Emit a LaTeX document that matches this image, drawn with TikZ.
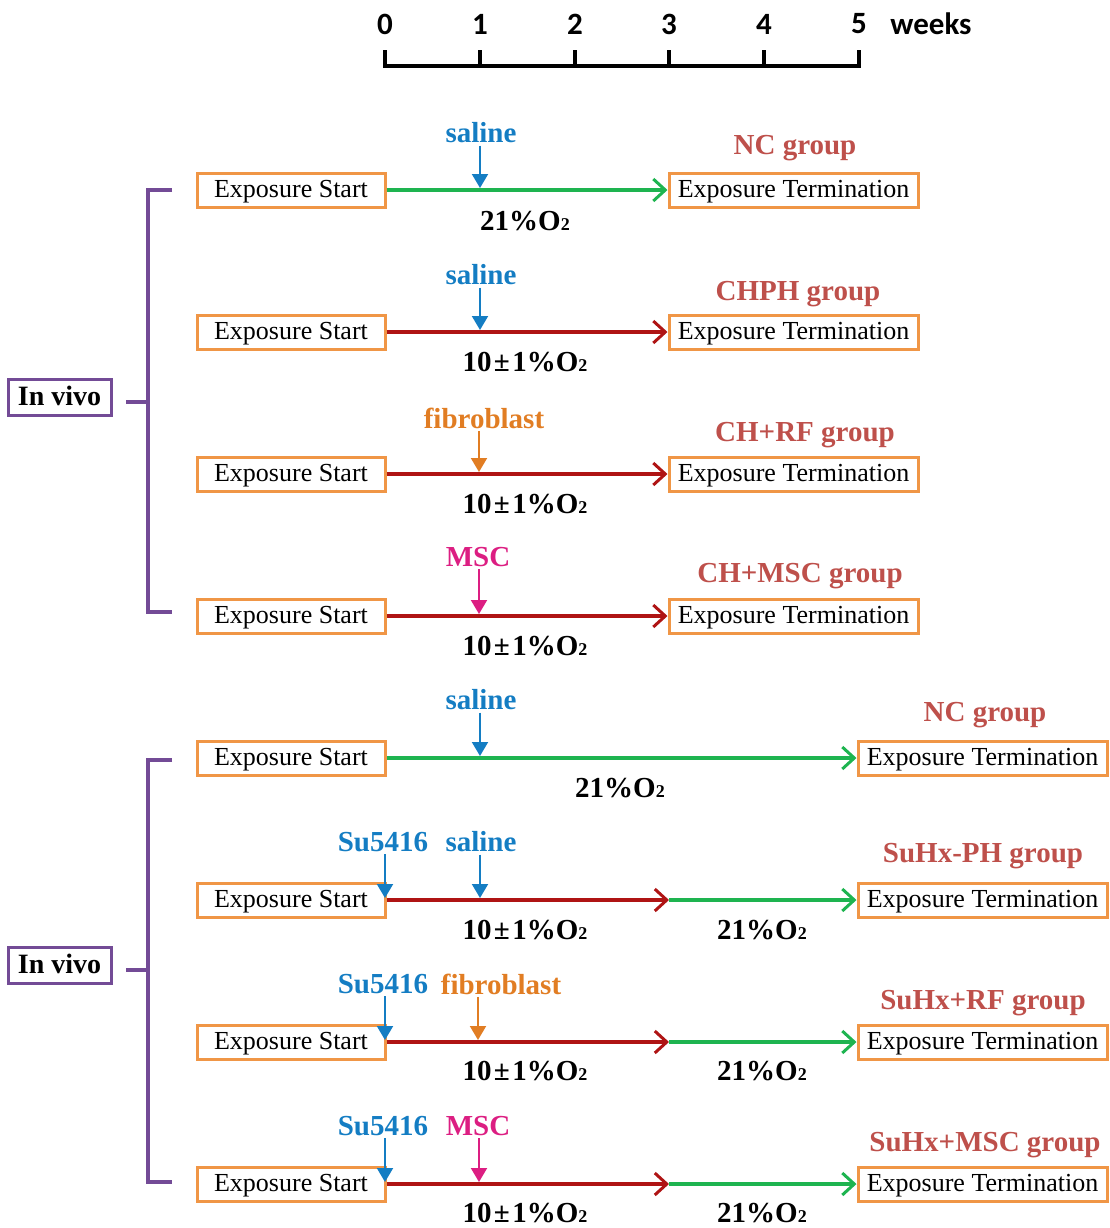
\documentclass[tikz,border=0pt]{standalone}
\usepackage{fontspec}
\setmainfont{Liberation Serif}
\newfontfamily\weekfont{Carlito}
\usetikzlibrary{arrows.meta}

\definecolor{boxorange}{RGB}{240,150,70}
\definecolor{normgreen}{RGB}{30,180,80}
\definecolor{hypored}{RGB}{175,20,20}
\definecolor{salblue}{RGB}{20,125,195}
\definecolor{fiborange}{RGB}{225,125,35}
\definecolor{mscpink}{RGB}{220,30,130}
\definecolor{grpred}{RGB}{190,80,75}
\definecolor{bracepurple}{RGB}{115,75,150}

\newcommand{\oxy}{O\raisebox{-0.3pt}{\fontsize{9}{9}\selectfont 2}}
\newcommand{\hypo}{10\kern1.2pt±\kern1.2pt1\%\oxy}

\tikzset{
  expbox/.style={draw=boxorange, line width=1.5pt, minimum height=17pt, inner sep=0pt,
    text height=9pt, text depth=2pt, font=\fontsize{13}{13}\selectfont},
  startbox/.style={expbox, minimum width=94pt},
  termbox/.style={expbox, minimum width=124.5pt},
  grplabel/.style={text=grpred, font=\bfseries\fontsize{14.5}{14.5}\selectfont},
  injlabel/.style={font=\bfseries\fontsize{14.5}{14.5}\selectfont, inner sep=1pt},
  o2label/.style={font=\bfseries\fontsize{14.5}{14.5}\selectfont},
  wklabel/.style={font=\weekfont\bfseries\fontsize{15.5}{15.5}\selectfont},
  normox/.style={draw=normgreen, line width=2pt,
    -{Straight Barb[length=6pt,width=11pt,line width=1.5pt]}},
  hypox/.style={draw=hypored, line width=2pt,
    -{Straight Barb[length=6pt,width=11pt,line width=1.5pt]}},
  inj/.style={line width=1pt, -{Triangle[length=7pt,width=8pt]}, shorten >=1pt},
  brace/.style={draw=bracepurple, line width=2pt},
  vivobox/.style={draw=bracepurple, line width=1.5pt, inner sep=0pt,
    minimum width=51.5pt, minimum height=18pt, text height=9.5pt, text depth=1pt,
    font=\bfseries\fontsize{14}{14}\selectfont}
}

\begin{document}
\begin{tikzpicture}[x=0.5pt,y=-0.5pt]
\useasboundingbox (0,0) rectangle (1110,1228);

% time axis
\node[wklabel] (w0) at (385,24) {0};
\node[wklabel] (w1) at (480,24) {1};
\node[wklabel] (w2) at (575,24) {2};
\node[wklabel] (w3) at (669,24) {3};
\node[wklabel] (w4) at (764,24) {4};
\node[wklabel] (w5) at (859,24) {5};
\node[wklabel] (wk) at (931,24) {weeks};
\draw[line width=2pt] (385,50) -- (385,66) -- (859,66) -- (859,50);
\draw[line width=2pt] (480,50) -- (480,66);
\draw[line width=2pt] (575,50) -- (575,66);
\draw[line width=2pt] (669,50) -- (669,66);
\draw[line width=2pt] (764,50) -- (764,66);

% first in vivo group
\node[startbox] (sa) at (291,190) {Exposure Start};
\node[termbox] (ta) at (793.5,190) {Exposure Termination};
\node[grplabel] (ga) at (795,148) {NC group};
\node[injlabel, text=salblue] (ia) at (481,133) {saline};
\node[o2label] (oa) at (525,221) {21\%\oxy};
\coordinate (ka) at (480,190);
\draw[normox] (sa) -- (ta);
\draw[inj, salblue] (ka |- ia.south) -- (ka);

\node[startbox] (sb) at (291,332) {Exposure Start};
\node[termbox] (tb) at (793.5,332) {Exposure Termination};
\node[grplabel] (gb) at (798,294) {CHPH group};
\node[injlabel, text=salblue] (ib) at (481,275) {saline};
\node[o2label] (ob) at (525,362) {\hypo};
\coordinate (kb) at (480,332);
\draw[hypox] (sb) -- (tb);
\draw[inj, salblue] (kb |- ib.south) -- (kb);

\node[startbox] (sc) at (291,474) {Exposure Start};
\node[termbox] (tc) at (793.5,474) {Exposure Termination};
\node[grplabel] (gc) at (805,435) {CH+RF group};
\node[injlabel, text=fiborange] (ic) at (484,418) {fibroblast};
\node[o2label] (oc) at (525,504) {\hypo};
\coordinate (kc) at (479,474);
\draw[hypox] (sc) -- (tc);
\draw[inj, fiborange] (kc |- ic.south) -- (kc);

\node[startbox] (sd) at (291,616) {Exposure Start};
\node[termbox] (td) at (793.5,616) {Exposure Termination};
\node[grplabel] (gd) at (800,576) {CH+MSC group};
\node[injlabel, text=mscpink] (id) at (478,557) {MSC};
\node[o2label] (od) at (525,646) {\hypo};
\coordinate (kd) at (479,616);
\draw[hypox] (sd) -- (td);
\draw[inj, mscpink] (kd |- id.south) -- (kd);

\node[vivobox] (va) at (59.5,397) {In vivo};
\coordinate (ba) at (148,402);
\draw[brace] (172,190) -- (148,190) -- (148,612) -- (172,612);
\draw[brace] (ba) -- (126,402);

% second in vivo group
\node[startbox] (se) at (291,758) {Exposure Start};
\node[termbox] (te) at (982.5,758) {Exposure Termination};
\node[grplabel] (ge) at (985,715) {NC group};
\node[injlabel, text=salblue] (ie) at (481,700) {saline};
\node[o2label] (oe) at (620,788) {21\%\oxy};
\coordinate (ke) at (480,758);
\draw[normox] (se) -- (te);
\draw[inj, salblue] (ke |- ie.south) -- (ke);

\node[startbox] (sf) at (291,900) {Exposure Start};
\node[termbox] (tf) at (982.5,900) {Exposure Termination};
\node[grplabel] (gf) at (983,856) {SuHx-PH group};
\node[injlabel, text=salblue] (uf) at (383,842) {Su5416};
\node[injlabel, text=salblue] (if) at (481,842) {saline};
\node[o2label] (of) at (525,930) {\hypo};
\node[o2label] (nf) at (762,930) {21\%\oxy};
\coordinate (mf) at (669,900);
\coordinate (jf) at (385,900);
\coordinate (kf) at (480,900);
\draw[hypox] (sf) -- (mf);
\draw[normox] (mf) -- (tf);
\draw[inj, salblue] (jf |- uf.south) -- (jf);
\draw[inj, salblue] (kf |- if.south) -- (kf);

\node[startbox] (sg) at (291,1042) {Exposure Start};
\node[termbox] (tg) at (982.5,1042) {Exposure Termination};
\node[grplabel] (gg) at (983,1003) {SuHx+RF group};
\node[injlabel, text=salblue] (ug) at (383,984) {Su5416};
\node[injlabel, text=fiborange] (ig) at (501,984) {fibroblast};
\node[o2label] (og) at (525,1071) {\hypo};
\node[o2label] (ng) at (762,1071) {21\%\oxy};
\coordinate (mg) at (669,1042);
\coordinate (jg) at (385,1042);
\coordinate (kg) at (478,1042);
\draw[hypox] (sg) -- (mg);
\draw[normox] (mg) -- (tg);
\draw[inj, salblue] (jg |- ug.south) -- (jg);
\draw[inj, fiborange] (kg |- ig.south) -- (kg);

\node[startbox] (sh) at (291,1184) {Exposure Start};
\node[termbox] (th) at (982.5,1184) {Exposure Termination};
\node[grplabel] (gh) at (985,1145) {SuHx+MSC group};
\node[injlabel, text=salblue] (uh) at (383,1126) {Su5416};
\node[injlabel, text=mscpink] (ih) at (478,1126) {MSC};
\node[o2label] (oh) at (525,1213) {\hypo};
\node[o2label] (nh) at (762,1213) {21\%\oxy};
\coordinate (mh) at (669,1184);
\coordinate (jh) at (385,1184);
\coordinate (kh) at (479,1184);
\draw[hypox] (sh) -- (mh);
\draw[normox] (mh) -- (th);
\draw[inj, salblue] (jh |- uh.south) -- (jh);
\draw[inj, mscpink] (kh |- ih.south) -- (kh);

\node[vivobox] (vb) at (59.5,965) {In vivo};
\coordinate (bb) at (148,970);
\draw[brace] (172,760) -- (148,760) -- (148,1182) -- (172,1182);
\draw[brace] (bb) -- (126,970);
\end{tikzpicture}
\end{document}
